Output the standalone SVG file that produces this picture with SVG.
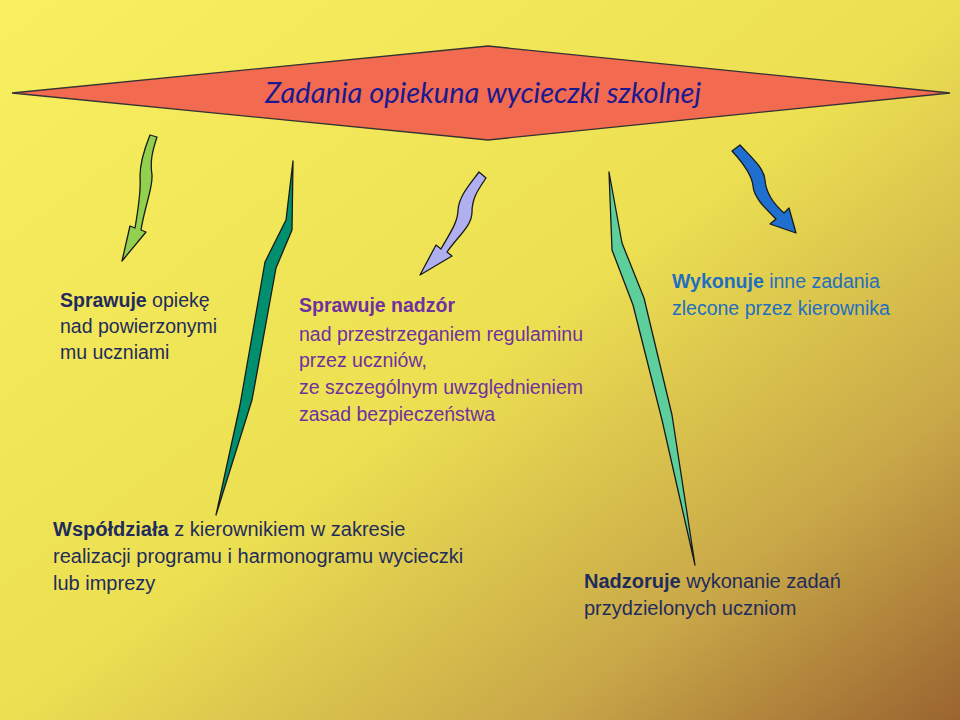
<svg xmlns="http://www.w3.org/2000/svg" width="960" height="720" viewBox="0 0 960 720">
<defs>
<linearGradient id="bg" x1="0" y1="0" x2="1" y2="1">
<stop offset="0" stop-color="#f8f060"/>
<stop offset="0.5" stop-color="#ece052"/>
<stop offset="0.78" stop-color="#c9a848"/>
<stop offset="1" stop-color="#9a6430"/>
</linearGradient>
<style>
.t{font-family:"Liberation Sans",Arial,sans-serif;font-size:19.5px}
.b{font-weight:bold}
.n{fill:#1f2c5c}
.p{fill:#7030a0}
.u{fill:#1f6fc0}
.s{stroke:#1a1a1a;stroke-width:1.3;stroke-linejoin:round}
</style>
</defs>
<rect width="960" height="720" fill="url(#bg)"/>
<g id="title">
<polygon points="12,93 488,46 950,93 488,140" fill="#f26a50" stroke="#333" stroke-width="1.3"/>
<text x="483" y="103" text-anchor="middle" font-family="Lato,'Open Sans',sans-serif" font-style="italic" font-size="29" fill="#1a1a90">Zadania opiekuna wycieczki szkolnej</text>
</g>
<g id="connectors">
<path class="s" fill="#92d050" d="M150,135 L157,137 C152,152 150,162 152,175 C153,188 145,205 141,230 L146,232 L122,261 L130,226 L135,228 C139,205 141,190 140,176 C140,162 144,150 150,135 Z"/>
<path class="s" fill="#009070" d="M293,161 L292,230 L276,268 L252,400 L216,515 L240,405 L265,262 L286,220 Z"/>
<path class="s" fill="#b0b0f0" d="M479,172 L486,178 C478,190 472,198 472,212 C472,226 458,236 447,252 L452,256 L420,275 L436,245 L441,249 C450,233 458,222 458,210 C459,196 470,184 479,172 Z"/>
<path class="s" fill="#5ccf9c" d="M609,172 L612,250 L633,305 L662,420 L695,565 L672,415 L644,298 L622,243 Z"/>
<path class="s" fill="#1f6fd0" d="M732,151 L740,145 C752,158 764,168 765,180 C766,195 775,205 784,213 L789,208 L796,233 L770,224 L776,219 C766,209 754,198 753,186 C752,175 744,164 732,151 Z"/>
</g>
<g id="node1" class="t n">
<text x="60" y="307"><tspan class="b">Sprawuje</tspan> opiekę</text>
<text x="60" y="333">nad powierzonymi</text>
<text x="60" y="359">mu uczniami</text>
</g>
<g id="node2" class="t p">
<text x="299" y="312" class="b">Sprawuje nadzór</text>
<text x="299" y="341">nad przestrzeganiem regulaminu</text>
<text x="299" y="367">przez uczniów,</text>
<text x="299" y="394">ze szczególnym uwzględnieniem</text>
<text x="299" y="421">zasad bezpieczeństwa</text>
</g>
<g id="node3" class="t u">
<text x="672" y="288"><tspan class="b">Wykonuje</tspan> inne zadania</text>
<text x="672" y="315">zlecone przez kierownika</text>
</g>
<g id="node4" class="t n" style="font-size:20px">
<text x="53" y="536"><tspan class="b">Współdziała</tspan> z kierownikiem w zakresie</text>
<text x="53" y="563">realizacji programu i harmonogramu wycieczki</text>
<text x="53" y="590">lub imprezy</text>
</g>
<g id="node5" class="t n" style="font-size:20px">
<text x="584" y="588"><tspan class="b">Nadzoruje</tspan> wykonanie zadań</text>
<text x="584" y="615">przydzielonych uczniom</text>
</g>
</svg>
